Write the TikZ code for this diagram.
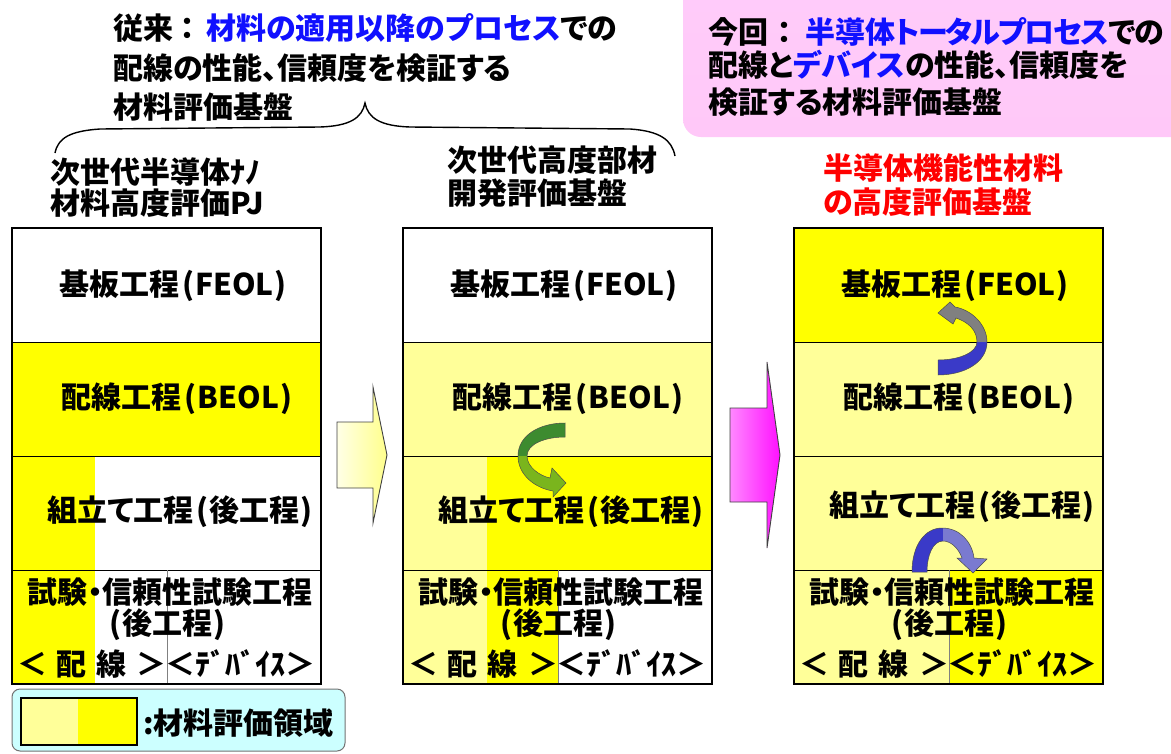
\documentclass[tikz,border=0pt]{standalone}
\usepackage{fontspec}
\setmainfont{Noto Sans CJK JP}[RawFeature=+palt]
\definecolor{yel}{HTML}{FFFF00}
\definecolor{pale}{HTML}{FFFF99}
\definecolor{txtblue}{HTML}{1010FF}
\definecolor{legcyan}{HTML}{CCFFFF}
\definecolor{gdark}{HTML}{3D8B2F}
\definecolor{glight}{HTML}{7AB51D}
\definecolor{bdark}{HTML}{3A3AC8}
\definecolor{blight}{HTML}{7A7AD0}
\definecolor{agray}{HTML}{808080}
\definecolor{arrL}{HTML}{FFFFE6}
\definecolor{arrR}{HTML}{FFFF8C}
\definecolor{magL}{HTML}{FF88FF}
\definecolor{magR}{HTML}{FF10FF}
\definecolor{pinkT}{HTML}{FFCCFA}
\definecolor{pinkB}{HTML}{FFC8F8}
\newcommand\LP{\kern3pt(\kern1pt}
\newcommand\RP{\kern1pt)}
\begin{document}
\begin{tikzpicture}[x=1pt,y=-1pt,
  txt/.style={inner sep=0pt, font=\fontsize{30}{34}\selectfont\bfseries},
  outer/.style={line width=2.2pt},
  divider/.style={line width=1pt},
  vdivider/.style={line width=1pt, draw=agray},
  blockedge/.style={line width=0.9pt, draw=black!75},
  curvedge/.style={line width=0.5pt, draw=black!70}]
\useasboundingbox (0,0) rectangle (1171,753);

% pink box (new)
\shade[top color=pinkT, bottom color=pinkB, rounded corners=18pt] (683,-30) rectangle (1200,137);

% brace
\draw[line width=1.4pt] (55,153) .. controls (58,138) and (70,131) .. (100,129) -- (320,127)
  .. controls (350,126) and (362,118) .. (365,103)
  .. controls (368,118) and (380,126) .. (410,127) -- (630,129)
  .. controls (660,131) and (672,140) .. (675,156);

% column fills
\fill[yel] (12,342) rectangle (321,456);
\fill[yel] (12,456) rectangle (95,684);
\fill[pale] (403,342) rectangle (712,456);
\fill[pale] (403,456) rectangle (487,684);
\fill[yel] (487,456) rectangle (712,570);
\fill[yel] (487,570) rectangle (558,684);
\fill[yel] (794,228) rectangle (1103,342);
\fill[pale] (794,342) rectangle (1103,684);
\fill[yel] (949,570) rectangle (1103,684);

% column lines
\foreach \o in {0,391,782} {
  \draw[divider] (12+\o,342) -- (321+\o,342);
  \draw[divider] (12+\o,456) -- (321+\o,456);
  \draw[divider] (12+\o,570) -- (321+\o,570);
  \draw[vdivider] (167+\o,570) -- (167+\o,684);
  \draw[outer] (12+\o,228) rectangle (321+\o,684);
}

% block arrows
\shadedraw[left color=arrL, right color=arrR, blockedge] (337,422) -- (373,422) -- (373,387) -- (387,455) -- (373,523) -- (373,488) -- (337,488) -- cycle;
\shadedraw[left color=magL, right color=magR, blockedge] (730,408) -- (767,408) -- (767,362) -- (780,455) -- (767,548) -- (767,502) -- (730,502) -- cycle;

% green curved arrow
\path[save path=\gpath] (565,423) .. controls (540,423) and (518,435) .. (518,456) .. controls (518,475) and (535,488) .. (553,491) -- (553,497) -- (566,483) -- (552,468) -- (550,478) .. controls (540,476) and (527,467) .. (527,456) .. controls (527,444) and (545,437) .. (565,437) -- cycle;
\begin{scope}\clip (500,400) rectangle (600,456); \fill[gdark, use path=\gpath]; \end{scope}
\begin{scope}\clip (500,456) rectangle (600,520); \fill[glight, use path=\gpath]; \end{scope}
\draw[curvedge, use path=\gpath];

% blue/gray curved arrow (right, top)
\path[save path=\bpath] (938,375) .. controls (965,375) and (987,362) .. (987,342) .. controls (987,325) and (972,310) .. (955,307) -- (950,302) -- (938,313) -- (953,324) -- (956,318) .. controls (968,322) and (977,330) .. (977,342) .. controls (977,352) and (960,360) .. (938,360) -- cycle;
\begin{scope}\clip (920,290) rectangle (1000,342); \fill[agray, use path=\bpath]; \end{scope}
\begin{scope}\clip (920,342) rectangle (1000,390); \fill[bdark, use path=\bpath]; \end{scope}
\draw[curvedge, use path=\bpath];

% blue curved arrow (right, bottom)
\path[save path=\cpath] (912,572) .. controls (912,545) and (925,528) .. (942,528) .. controls (960,528) and (972,542) .. (974,558) -- (987,559) -- (973,573) -- (957,558) -- (962,558) .. controls (958,547) and (950,541) .. (943,541) .. controls (933,541) and (927,555) .. (927,572) -- cycle;
\begin{scope}\clip (900,520) rectangle (943,580); \fill[bdark, use path=\cpath]; \end{scope}
\begin{scope}\clip (943,520) rectangle (1000,580); \fill[blight, use path=\cpath]; \end{scope}
\draw[curvedge, use path=\cpath];

% legend
\draw[fill=legcyan, draw=black!55, rounded corners=8pt, line width=1pt] (12,689) rectangle (345,751);
\fill[pale] (21,698) rectangle (78,745);
\fill[yel] (78,698) rectangle (137,745);
\draw[outer] (21,698) rectangle (137,745);
\node[txt, anchor=west] (legtxt) at (143,723) {:材料評価領域};

% top texts
\node[txt, anchor=west] (old1) at (113,28) {従来\kern7pt：\kern11pt\textcolor{txtblue}{材料の適用以降のプロセス}での};
\node[txt, anchor=west] (old2) at (113,68) {配線の性能、信頼度を検証する};
\node[txt, anchor=west] (old3) at (113,107) {材料評価基盤};
\node[txt, anchor=west] (new1) at (708,32) {今回\kern9pt：\kern13pt\textcolor{txtblue}{半導体{\addfontfeatures{LetterSpace=-6}トータルプロセス}}で\kern-1ptの};
\node[txt, anchor=west] (new2) at (708,65) {配線と\textcolor{txtblue}{デバイス}の性能、信頼度を};
\node[txt, anchor=west] (new3) at (708,102) {検証する材料評価基盤};

% headers
\node[txt, anchor=west] (h1a) at (50,172) {次世代半導体ﾅﾉ};
\node[txt, anchor=west] (h1b) at (50,203) {材料高度評価PJ};
\node[txt, anchor=west] (h2a) at (447,160) {次世代高度部材};
\node[txt, anchor=west] (h2b) at (447,193) {開発評価基盤};
\node[txt, anchor=west, red] (h3a) at (823,168) {半導体機能性材料};
\node[txt, anchor=west, red] (h3b) at (823,202) {の高度評価基盤};

% column texts
\foreach \o/\n/\ky in {0/L/512, 391/M/512, 782/R/507} {
  \node[txt] (\n-feol) at (173+\o,286) {基板工程\LP FEOL\RP};
  \node[txt] (\n-beol) at (177+\o,399) {配線工程\LP BEOL\RP};
  \node[txt] (\n-asm) at (180+\o,\ky) {組立て工程\LP 後工程\RP};
  \node[txt] (\n-test) at (170+\o,592) {試験・信頼性試験工程};
  \node[txt] (\n-back) at (166+\o,625) {\LP 後工程\RP};
  \node[txt] (\n-wire) at (92+\o,664) {＜\hspace{10pt}配\hspace{10pt}線\hspace{10pt}＞};
  \node[txt] (\n-dev) at (240+\o,664) {＜ﾃﾞﾊﾞｲｽ＞};
}
\end{tikzpicture}
\end{document}
